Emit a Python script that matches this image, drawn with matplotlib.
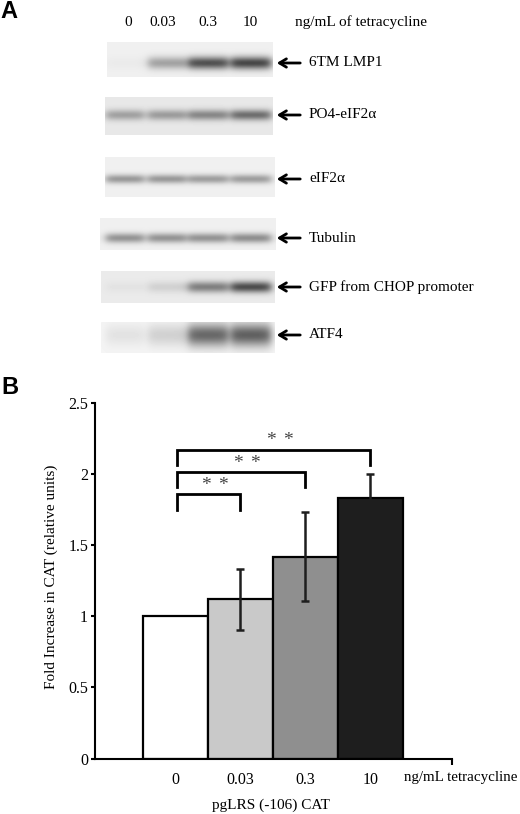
import numpy as np
import matplotlib
matplotlib.use("Agg")
import matplotlib.pyplot as plt
from matplotlib.transforms import blended_transform_factory

# ---------------- data ----------------
lane_labels = ["0", "0.03", "0.3", "10"]
blot_labels = ["6TM LMP1", "PO4-eIF2\u03b1", "eIF2\u03b1", "Tubulin",
               "GFP from CHOP promoter", "ATF4"]
# band darkness (0 = none, 1 = black) per lane
band_lmp1 = [0.02, 0.30, 0.62, 0.66]
band_po4 = [0.28, 0.30, 0.38, 0.48]
band_eif2a = [0.34, 0.34, 0.32, 0.32]
band_tubulin = [0.36, 0.36, 0.36, 0.38]
band_gfp = [0.03, 0.10, 0.42, 0.62]
band_atf4 = [0.07, 0.14, 0.55, 0.58]
bands = [band_lmp1, band_po4, band_eif2a, band_tubulin, band_gfp, band_atf4]

bar_values = [1.0, 1.12, 1.42, 1.83]
bar_errors = [0.0, 0.215, 0.31, 0.17]
sig_pairs = [(0, 1), (0, 2), (0, 3)]
sig_heights = [1.86, 2.015, 2.17]
sig_mark = "*"

# ---------------- figure ----------------
W, H = 520, 814
fig = plt.figure(figsize=(W / 100, H / 100), dpi=100)
serif = ["Liberation Serif", "DejaVu Serif"]

ov = fig.add_axes([0, 0, 1, 1])
ov.set_xlim(0, W)
ov.set_ylim(H, 0)
ov.axis("off")

# strip geometry (pixels): x0, x1, y0, y1, band centre y, band half height, bg
strips = [
    (107, 273, 42, 77, 63, 4.5, 0.94),
    (105, 273, 97, 135, 115, 3.8, 0.91),
    (105, 275, 157, 197, 179, 3.2, 0.94),
    (100, 276, 218, 250, 238, 3.5, 0.94),
    (101, 275, 271, 303, 287, 4.0, 0.92),
    (101, 275, 322, 353, 335, 8.0, 0.96),
]
lane_x = [125, 167, 208, 251]
lane_half = [19, 19, 20, 20]

for (x0, x1, y0, y1, yc, hh, bg), vals in zip(strips, bands):
    xs = np.arange(x0, x1) + 0.5
    ys = np.arange(y0, y1) + 0.5
    X, Y = np.meshgrid(xs, ys)
    img = np.full(X.shape, bg)
    for lx, lh, v in zip(lane_x, lane_half, vals):
        hx = 1.0 / (1.0 + np.exp((np.abs(X - lx) - lh) / 2.5))
        vy = np.exp(-0.5 * ((Y - yc) / hh) ** 2)
        img = img - v * hx * vy
    ov.imshow(np.clip(img, 0, 1), cmap="gray", vmin=0, vmax=1,
              extent=(x0, x1, y1, y0), interpolation="bilinear", aspect="auto")
    ov.annotate("", xy=(274, yc), xytext=(303, yc),
                arrowprops=dict(arrowstyle="->,head_length=0.5,head_width=0.3",
                                lw=2.0, color="black"))
for (x0, x1, y0, y1, yc, hh, bg), lab in zip(strips, blot_labels):
    ov.text(309, yc, lab, fontsize=11, family=serif, va="center", ha="left")

for lx, lab in zip([128, 163, 208, 250], lane_labels):
    ov.text(lx, 22, lab, fontsize=11, family=serif, ha="center", va="center")
ov.text(295, 22, "ng/mL of tetracycline", fontsize=11, family=serif,
        ha="left", va="center")

ov.text(0, 11, "A", fontsize=17, fontweight="bold", family=["Liberation Sans"],
        ha="left", va="center")
ov.text(1, 387, "B", fontsize=17, fontweight="bold", family=["Liberation Sans"],
        ha="left", va="center")

# ---------------- panel B ----------------
ax = fig.add_axes([95 / W, 1 - 758.6 / H, (451.7 - 95) / W, (758.6 - 402.8) / H])
xpos = np.arange(len(bar_values))
colors = ["white", "#c9c9c9", "#8f8f8f", "#1e1e1e"]
ax.bar(xpos, bar_values, width=1.0, color=colors, edgecolor="black",
       linewidth=1.6, zorder=2)
ax.errorbar(xpos[1:], bar_values[1:], yerr=bar_errors[1:], fmt="none",
            ecolor="#1e1e1e", elinewidth=1.8, capsize=3, capthick=1.8, zorder=3)

xmin, xmax = -1.235, 4.25
ax.set_xlim(xmin, xmax)
ax.set_ylim(0, 2.5)
ax.set_yticks([0, 0.5, 1, 1.5, 2, 2.5])
ax.set_yticklabels(["0", "0.5", "1", "1.5", "2", "2.5"])
ax.set_xticks(xpos)
ax.set_xticklabels(lane_labels)
ax.set_xticks([xmax], minor=True)
ax.tick_params(axis="x", which="major", length=0, pad=10)
ax.tick_params(axis="x", which="minor", length=4, width=1.5, direction="out")
ax.tick_params(axis="y", length=3, width=1.5, direction="out", pad=2)
for lab in ax.get_xticklabels() + ax.get_yticklabels():
    lab.set_family(serif)
    lab.set_fontsize(11.5)
for s in ["top", "right"]:
    ax.spines[s].set_visible(False)
for s in ["left", "bottom"]:
    ax.spines[s].set_linewidth(1.5)

tr = blended_transform_factory(ax.transData, ax.transAxes)
ax.text(3.51, -0.054, "ng/mL tetracycline", transform=tr, fontsize=10.8,
        family=serif, ha="left", va="center", clip_on=False)

for (i, j), hgt in zip(sig_pairs, sig_heights):
    ax.plot([i + 0.03, i + 0.03, j, j], [hgt - 0.11, hgt, hgt, hgt - 0.11],
            color="black", lw=2.0, solid_joinstyle="miter", clip_on=False)
    cx = (i + j) / 2 + 0.1
    for dx in (-0.13, 0.13):
        ax.text(cx + dx, hgt + 0.03, sig_mark, fontsize=14,
                color="#444444", family=serif, ha="center", va="baseline")

fig.text(51.7 / W, 1 - 577 / H, "Fold Increase in CAT (relative units)",
         rotation=90, fontsize=11, family=serif, ha="center", va="center")
fig.text(270.7 / W, 1 - 805 / H, "pgLRS (-106) CAT", fontsize=11,
         family=serif, ha="center", va="center")

fig.savefig("out.png", dpi=100)
